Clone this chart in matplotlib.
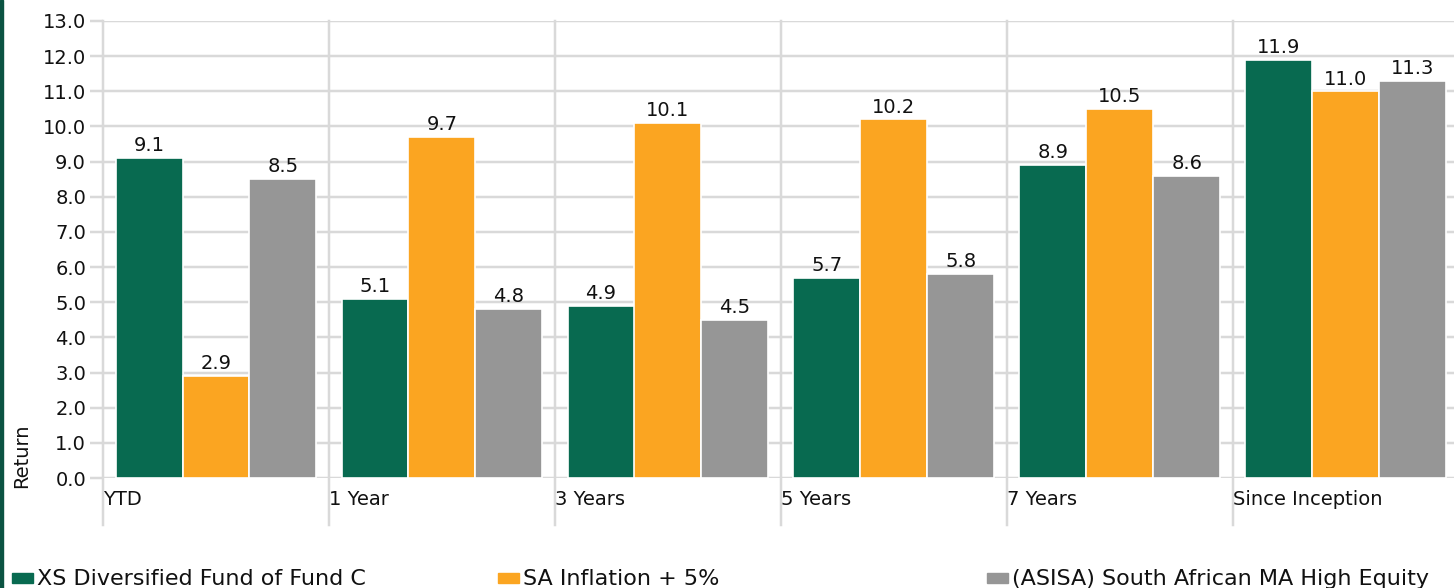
import matplotlib
matplotlib.use("Agg")
import matplotlib.pyplot as plt
import numpy as np
from matplotlib.patches import Rectangle

categories = ["YTD", "1 Year", "3 Years", "5 Years", "7 Years", "Since Inception"]
series_names = ["XS Diversified Fund of Fund C", "SA Inflation + 5%", "(ASISA) South African MA High Equity"]
fund_c = [9.1, 5.1, 4.9, 5.7, 8.9, 11.9]
inflation = [2.9, 9.7, 10.1, 10.2, 10.5, 11.0]
asisa = [8.5, 4.8, 4.5, 5.8, 8.6, 11.3]
colors = ["#086A50", "#FBA521", "#969696"]
yticks = np.arange(0, 14, 1.0)

plt.rcParams['font.family'] = ['DejaVu Sans']
W, H = 1454, 588
fig = plt.figure(figsize=(W / 100, H / 100), dpi=100)
PX = 0.72  # points per pixel at 100 dpi

left_px, right_px, top_px, bot_px = 103, 1459, 21, 478
ax = fig.add_axes([left_px / W, 1 - bot_px / H, (right_px - left_px) / W, (bot_px - top_px) / H])
ax.set_xlim(0, 6)
ax.set_ylim(0, 13)

grid_c = "#D9D9D9"
txt_c = "#111111"
fs = 14
bw = 67 / 226
x = np.arange(len(categories)) + 0.5
for k, (vals, col) in enumerate(zip([fund_c, inflation, asisa], colors)):
    pos = x + (k - 1) * bw
    ax.bar(pos, vals, width=bw, color=col, edgecolor="white", linewidth=1.2, zorder=3,
           label=series_names[k])
    for p, v in zip(pos, vals):
        ax.annotate(f"{v:.1f}", (p, v), xytext=(0, 2), textcoords="offset points",
                    ha="center", va="bottom", fontsize=fs, color=txt_c, zorder=4)

ax.set_yticks(yticks)
ax.set_yticklabels([f"{v:.1f}" for v in yticks], fontsize=fs, color=txt_c)
ax.yaxis.grid(True, color=grid_c, linewidth=2.5 * PX, zorder=0)
ax.tick_params(axis="y", length=13 * PX, color=grid_c, width=2.5 * PX, pad=4 * PX)
ax.set_xticks([])
for s in ax.spines.values():
    s.set_visible(False)

# vertical category separators extending below axis
for i in range(len(categories) + 1):
    ax.plot([i, i], [-1.34, 13], color=grid_c, linewidth=2.5 * PX, zorder=1, clip_on=False)
for i, c in enumerate(categories):
    ax.text(i, -0.62, c, ha="left", va="center", fontsize=fs, color=txt_c)

fig.text(22 / W, 1 - 456 / H, "Return", rotation=90, ha="center", va="center", fontsize=fs, color=txt_c)

# left strip
fig.patches.append(Rectangle((0, 0), 3 / W, 1, transform=fig.transFigure, color="#0B5342", zorder=5))

# legend
leg_x = [12, 498, 987]
for lx, name, col in zip(leg_x, series_names, colors):
    fig.patches.append(Rectangle((lx / W, 1 - 583 / H), 21 / W, 10 / H, transform=fig.transFigure, color=col))
    fig.text((lx + 25) / W, 1 - 579 / H, name, ha="left", va="center", fontsize=16, color=txt_c)

fig.savefig("out.png", dpi=100)
